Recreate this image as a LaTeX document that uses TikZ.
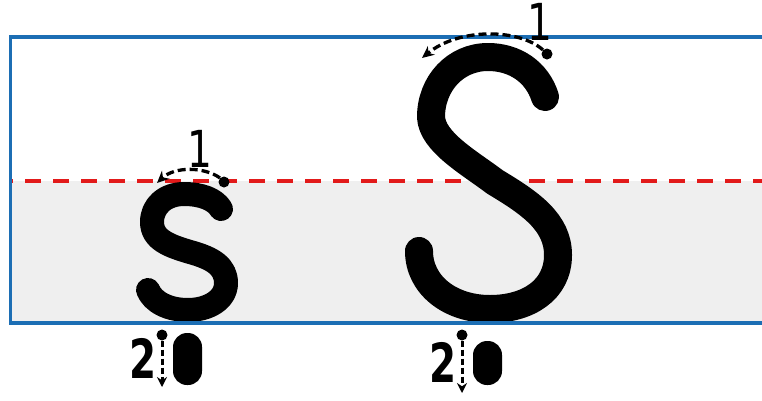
\documentclass[tikz,border=0pt]{standalone}
\usepackage{fontspec}
\newfontfamily\numfont{DejaVu Sans Condensed}
\usetikzlibrary{arrows.meta}
\definecolor{boxblue}{RGB}{28,110,180}
\definecolor{guidered}{RGB}{226,26,26}
\definecolor{bandgray}{RGB}{239,239,239}
\tikzset{
  letter/.style={line width=#1, line cap=round, line join=round, black},
  strokearrow/.style={line width=3.3pt, dash pattern=on 8pt off 4pt, -{Stealth[length=12pt,width=11pt]}},
  downarrow/.style={line width=3pt, dash pattern=on 6pt off 3pt, -{Stealth[length=10pt,width=10pt]}},
  numlabel/.style={inner sep=0pt, anchor=base, xscale=0.85, font=\numfont\fontsize{51}{51}\selectfont},
  twolabel/.style={inner sep=0pt, anchor=base, xscale=0.8, font=\numfont\bfseries\fontsize{54}{54}\selectfont},
  startdot/.style={circle, fill=black, inner sep=0pt, minimum size=11pt},
  pill/.style={fill=black, rounded corners=14pt}
}
\begin{document}
\begin{tikzpicture}[x=1pt,y=-1pt]
\useasboundingbox (0,0) rectangle (762,400);
% band
\fill[white] (0,0) rectangle (762,400);
\fill[bandgray] (10,181) rectangle (762,323);
% red midline
\draw[guidered, line width=4pt, dash pattern=on 16pt off 12pt, dash phase=15pt] (12,181) -- (762,181);
% small s
\draw[letter=24pt] (221,209) .. controls (215,199) and (201,194) .. (184,194)
  .. controls (165,194) and (152,206) .. (152,222)
  .. controls (152,240) and (170,246) .. (190,252)
  .. controls (212,258) and (226,266) .. (226,283)
  .. controls (226,300) and (208,310) .. (188,310)
  .. controls (168,310) and (153,302) .. (148,290);
% big S
\draw[letter=28pt] (545,97) .. controls (537,72) and (515,57) .. (488,57)
  .. controls (455,57) and (431,84) .. (431,117)
  .. controls (432,142) and (470,163) .. (495,182)
  .. controls (530,203) and (558,222) .. (558,255)
  .. controls (558,290) and (528,309) .. (490,309)
  .. controls (450,309) and (419,285) .. (419,251);
% blue frame
\draw[boxblue, line width=3.5pt] (762,37) -- (10.5,37) -- (10.5,323) -- (762,323);
% stroke 1 small
\node[startdot] (d1) at (224,182) {};
\coordinate (t1) at (157,183);
\draw[strokearrow] (d1.north west) .. controls (205,167) and (175,166) .. (t1);
\node[numlabel] (n1) at (200,167) {1};
% stroke 1 big
\node[startdot] (D1) at (547,54) {};
\coordinate (T1) at (422,58);
\draw[strokearrow] (D1.north west) .. controls (520,29) and (460,27) .. (T1);
\node[numlabel] (N1) at (540,40) {1};
% stroke 2 small
\node[twolabel] (n2) at (143,378) {2};
\node[startdot] (d2) at (162,335) {};
\coordinate (e2) at (162,387);
\draw[downarrow] (d2.south) -- (e2);
\fill[pill] (173,333) rectangle (202,385);
% stroke 2 big
\node[twolabel] (N2) at (443,382) {2};
\node[startdot] (D2) at (462,335) {};
\coordinate (E2) at (462,393);
\draw[downarrow] (D2.south) -- (E2);
\fill[pill] (473,341) rectangle (502,385);
\end{tikzpicture}
\end{document}
